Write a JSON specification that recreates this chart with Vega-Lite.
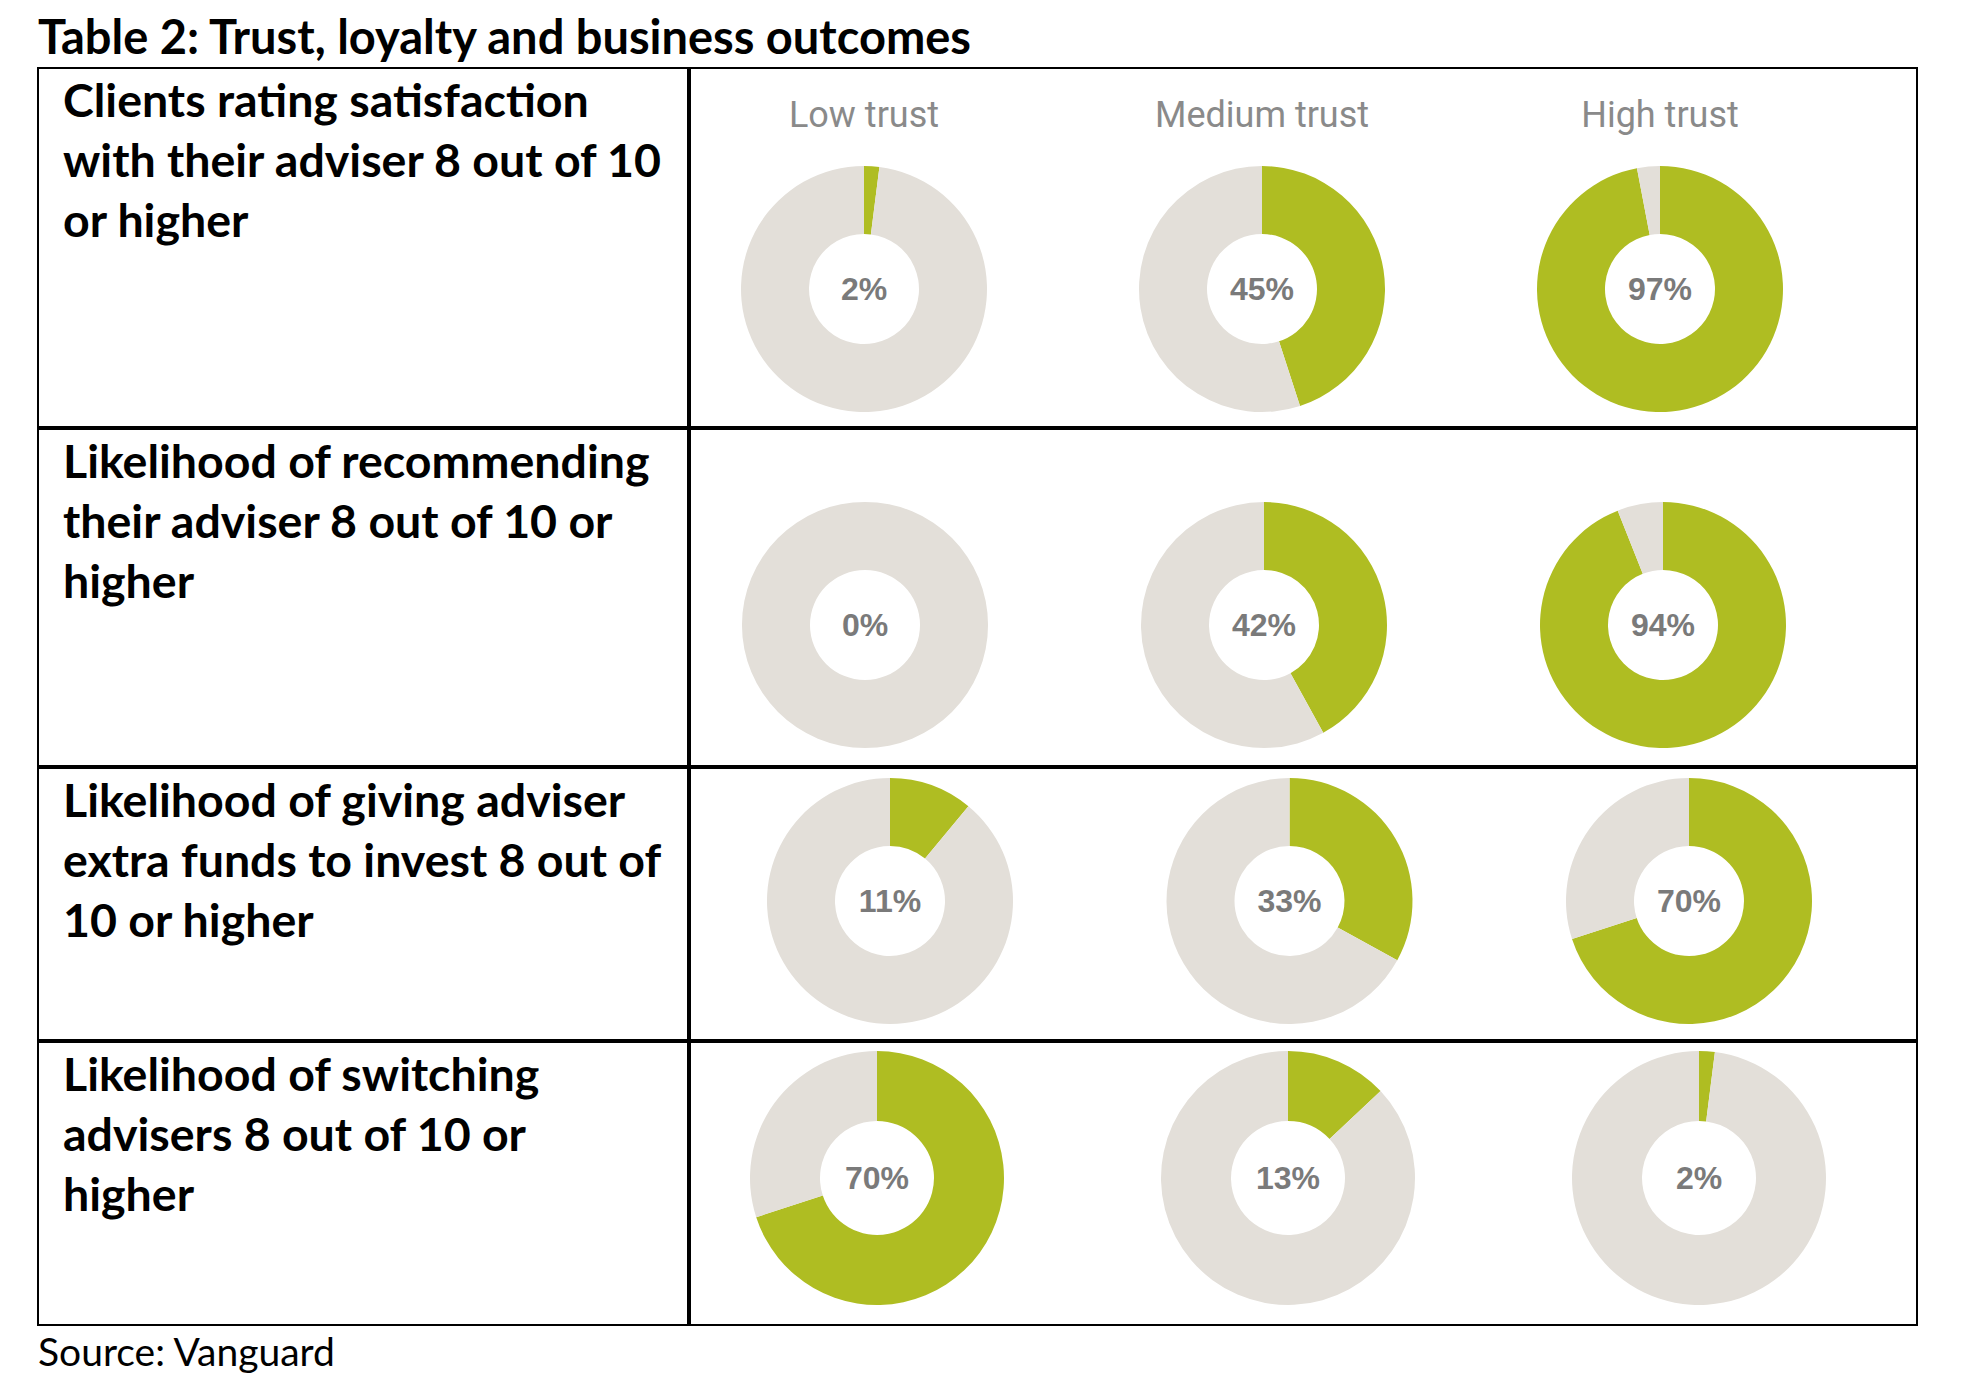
{
  "$schema": "https://vega.github.io/schema/vega-lite/v6.json",
  "padding": {"left": 37, "top": 0, "right": 10, "bottom": 5},
  "background": "white",
  "config": {
    "view": {"stroke": "black", "strokeWidth": 2},
    "concat": {"spacing": 0}
  },
  "datasets": {
    "labels": [
      {"metric": "satisfaction", "label": ["Clients rating satisfaction", "with their adviser 8 out of 10", "or higher"]},
      {"metric": "recommend", "label": ["Likelihood of recommending", "their adviser 8 out of 10 or", "higher"]},
      {"metric": "funds", "label": ["Likelihood of giving adviser", "extra funds to invest 8 out of", "10 or higher"]},
      {"metric": "switching", "label": ["Likelihood of switching", "advisers 8 out of 10 or", "higher"]}
    ],
    "donuts": [
      {"metric": "satisfaction", "trust": "Low trust", "part": "yes", "share": 0.02},
      {"metric": "satisfaction", "trust": "Low trust", "part": "no", "share": 0.98},
      {"metric": "satisfaction", "trust": "Medium trust", "part": "yes", "share": 0.45},
      {"metric": "satisfaction", "trust": "Medium trust", "part": "no", "share": 0.55},
      {"metric": "satisfaction", "trust": "High trust", "part": "yes", "share": 0.97},
      {"metric": "satisfaction", "trust": "High trust", "part": "no", "share": 0.03},
      {"metric": "recommend", "trust": "Low trust", "part": "yes", "share": 0.0},
      {"metric": "recommend", "trust": "Low trust", "part": "no", "share": 1.0},
      {"metric": "recommend", "trust": "Medium trust", "part": "yes", "share": 0.42},
      {"metric": "recommend", "trust": "Medium trust", "part": "no", "share": 0.58},
      {"metric": "recommend", "trust": "High trust", "part": "yes", "share": 0.94},
      {"metric": "recommend", "trust": "High trust", "part": "no", "share": 0.06},
      {"metric": "funds", "trust": "Low trust", "part": "yes", "share": 0.11},
      {"metric": "funds", "trust": "Low trust", "part": "no", "share": 0.89},
      {"metric": "funds", "trust": "Medium trust", "part": "yes", "share": 0.33},
      {"metric": "funds", "trust": "Medium trust", "part": "no", "share": 0.67},
      {"metric": "funds", "trust": "High trust", "part": "yes", "share": 0.70},
      {"metric": "funds", "trust": "High trust", "part": "no", "share": 0.30},
      {"metric": "switching", "trust": "Low trust", "part": "yes", "share": 0.70},
      {"metric": "switching", "trust": "Low trust", "part": "no", "share": 0.30},
      {"metric": "switching", "trust": "Medium trust", "part": "yes", "share": 0.13},
      {"metric": "switching", "trust": "Medium trust", "part": "no", "share": 0.87},
      {"metric": "switching", "trust": "High trust", "part": "yes", "share": 0.02},
      {"metric": "switching", "trust": "High trust", "part": "no", "share": 0.98}
    ]
  },
  "vconcat": [
    {"width": 1877, "height": 67, "view": {"stroke": null, "fill": "white"},
     "data": {"values": [{"title": "Table 2: Trust, loyalty and business outcomes"}]},
     "mark": {"type": "text", "align": "left", "baseline": "alphabetic", "y": 54, "font": "Lato", "fontSize": 47, "fontWeight": "bold", "color": "black"},
     "encoding": {"x": {"field": "title", "type": "nominal", "scale": {"type": "point", "range": [0, 0], "padding": 0}, "axis": null}, "text": {"field": "title"}}},
    {
      "hconcat": [
        {"width": 650, "height": 359, "data": {"name": "labels"}, "transform": [{"filter": "datum.metric === 'satisfaction'"}],
         "mark": {"type": "text", "align": "left", "baseline": "alphabetic", "y": 49, "font": "Lato", "fontWeight": "bold", "fontSize": 46.5, "lineHeight": 60, "color": "black"},
         "encoding": {"x": {"field": "metric", "type": "nominal", "scale": {"type": "point", "range": [25, 25], "padding": 0}, "axis": null}, "text": {"field": "label"}}},
        {"width": 1227, "height": 359, "data": {"name": "donuts"},
         "transform": [{"filter": "datum.metric === 'satisfaction'"}, {"stack": "share", "groupby": ["trust"], "sort": [{"field": "part", "order": "descending"}], "as": ["s0", "s1"]}],
         "layer": [
          {"mark": {"type": "arc", "outerRadius": 123, "innerRadius": 55, "y": 221},
           "encoding": {
             "x": {"field": "trust", "type": "nominal", "sort": ["Low trust", "Medium trust", "High trust"], "scale": {"type": "point", "range": [174, 970], "padding": 0}, "axis": null},
             "theta": {"field": "s0", "type": "quantitative", "stack": null, "scale": {"domain": [0, 1]}},
             "theta2": {"field": "s1"},
             "color": {"field": "part", "type": "nominal", "scale": {"domain": ["yes", "no"], "range": ["#afbd22", "#e3dfd9"]}, "legend": null}}},
          {"transform": [{"filter": "datum.part === 'yes'"}],
           "mark": {"type": "text", "y": 222, "baseline": "middle", "align": "center", "font": "Liberation Sans", "fontWeight": "bold", "fontSize": 32, "color": "#7a7a7a"},
           "encoding": {"x": {"field": "trust", "type": "nominal", "sort": ["Low trust", "Medium trust", "High trust"], "scale": {"type": "point", "range": [185, 978], "padding": 0}, "axis": null},
             "text": {"field": "share", "type": "quantitative", "format": ".0%"}}},
          {"transform": [{"filter": "datum.part === 'yes'"}],
           "mark": {"type": "text", "y": 59, "baseline": "alphabetic", "align": "center", "font": "Roboto", "fontSize": 36, "color": "#8a8a8a"},
           "encoding": {"x": {"field": "trust", "type": "nominal", "sort": ["Low trust", "Medium trust", "High trust"], "scale": {"type": "point", "range": [173, 975], "padding": 0}, "axis": null},
             "text": {"field": "trust", "type": "nominal"}}}
         ]}
      ]
    },
    {
      "hconcat": [
        {"width": 650, "height": 337, "data": {"name": "labels"}, "transform": [{"filter": "datum.metric === 'recommend'"}],
         "mark": {"type": "text", "align": "left", "baseline": "alphabetic", "y": 49, "font": "Lato", "fontWeight": "bold", "fontSize": 46.5, "lineHeight": 60, "color": "black"},
         "encoding": {"x": {"field": "metric", "type": "nominal", "scale": {"type": "point", "range": [25, 25], "padding": 0}, "axis": null}, "text": {"field": "label"}}},
        {"width": 1227, "height": 337, "data": {"name": "donuts"},
         "transform": [{"filter": "datum.metric === 'recommend'"}, {"stack": "share", "groupby": ["trust"], "sort": [{"field": "part", "order": "descending"}], "as": ["s0", "s1"]}],
         "layer": [
          {"mark": {"type": "arc", "outerRadius": 123, "innerRadius": 55, "y": 196},
           "encoding": {
             "x": {"field": "trust", "type": "nominal", "sort": ["Low trust", "Medium trust", "High trust"], "scale": {"type": "point", "range": [175, 973], "padding": 0}, "axis": null},
             "theta": {"field": "s0", "type": "quantitative", "stack": null, "scale": {"domain": [0, 1]}},
             "theta2": {"field": "s1"},
             "color": {"field": "part", "type": "nominal", "scale": {"domain": ["yes", "no"], "range": ["#afbd22", "#e3dfd9"]}, "legend": null}}},
          {"transform": [{"filter": "datum.part === 'yes'"}],
           "mark": {"type": "text", "y": 197, "baseline": "middle", "align": "center", "font": "Liberation Sans", "fontWeight": "bold", "fontSize": 32, "color": "#7a7a7a"},
           "encoding": {"x": {"field": "trust", "type": "nominal", "sort": ["Low trust", "Medium trust", "High trust"], "scale": {"type": "point", "range": [180, 981], "padding": 0}, "axis": null},
             "text": {"field": "share", "type": "quantitative", "format": ".0%"}}}
         ]}
      ]
    },
    {
      "hconcat": [
        {"width": 650, "height": 272, "data": {"name": "labels"}, "transform": [{"filter": "datum.metric === 'funds'"}],
         "mark": {"type": "text", "align": "left", "baseline": "alphabetic", "y": 49, "font": "Lato", "fontWeight": "bold", "fontSize": 46.5, "lineHeight": 60, "color": "black"},
         "encoding": {"x": {"field": "metric", "type": "nominal", "scale": {"type": "point", "range": [25, 25], "padding": 0}, "axis": null}, "text": {"field": "label"}}},
        {"width": 1227, "height": 272, "data": {"name": "donuts"},
         "transform": [{"filter": "datum.metric === 'funds'"}, {"stack": "share", "groupby": ["trust"], "sort": [{"field": "part", "order": "descending"}], "as": ["s0", "s1"]}],
         "layer": [
          {"mark": {"type": "arc", "outerRadius": 123, "innerRadius": 55, "y": 133},
           "encoding": {
             "x": {"field": "trust", "type": "nominal", "sort": ["Low trust", "Medium trust", "High trust"], "scale": {"type": "point", "range": [200, 999], "padding": 0}, "axis": null},
             "theta": {"field": "s0", "type": "quantitative", "stack": null, "scale": {"domain": [0, 1]}},
             "theta2": {"field": "s1"},
             "color": {"field": "part", "type": "nominal", "scale": {"domain": ["yes", "no"], "range": ["#afbd22", "#e3dfd9"]}, "legend": null}}},
          {"transform": [{"filter": "datum.part === 'yes'"}],
           "mark": {"type": "text", "y": 134, "baseline": "middle", "align": "center", "font": "Liberation Sans", "fontWeight": "bold", "fontSize": 32, "color": "#7a7a7a"},
           "encoding": {"x": {"field": "trust", "type": "nominal", "sort": ["Low trust", "Medium trust", "High trust"], "scale": {"type": "point", "range": [211, 1007], "padding": 0}, "axis": null},
             "text": {"field": "share", "type": "quantitative", "format": ".0%"}}}
         ]}
      ]
    },
    {
      "hconcat": [
        {"width": 650, "height": 283, "data": {"name": "labels"}, "transform": [{"filter": "datum.metric === 'switching'"}],
         "mark": {"type": "text", "align": "left", "baseline": "alphabetic", "y": 49, "font": "Lato", "fontWeight": "bold", "fontSize": 46.5, "lineHeight": 60, "color": "black"},
         "encoding": {"x": {"field": "metric", "type": "nominal", "scale": {"type": "point", "range": [25, 25], "padding": 0}, "axis": null}, "text": {"field": "label"}}},
        {"width": 1227, "height": 283, "data": {"name": "donuts"},
         "transform": [{"filter": "datum.metric === 'switching'"}, {"stack": "share", "groupby": ["trust"], "sort": [{"field": "part", "order": "descending"}], "as": ["s0", "s1"]}],
         "layer": [
          {"mark": {"type": "arc", "outerRadius": 127, "innerRadius": 57, "y": 136},
           "encoding": {
             "x": {"field": "trust", "type": "nominal", "sort": ["Low trust", "Medium trust", "High trust"], "scale": {"type": "point", "range": [187, 1009], "padding": 0}, "axis": null},
             "theta": {"field": "s0", "type": "quantitative", "stack": null, "scale": {"domain": [0, 1]}},
             "theta2": {"field": "s1"},
             "color": {"field": "part", "type": "nominal", "scale": {"domain": ["yes", "no"], "range": ["#afbd22", "#e3dfd9"]}, "legend": null}}},
          {"transform": [{"filter": "datum.part === 'yes'"}],
           "mark": {"type": "text", "y": 137, "baseline": "middle", "align": "center", "font": "Liberation Sans", "fontWeight": "bold", "fontSize": 32, "color": "#7a7a7a"},
           "encoding": {"x": {"field": "trust", "type": "nominal", "sort": ["Low trust", "Medium trust", "High trust"], "scale": {"type": "point", "range": [198, 1018], "padding": 0}, "axis": null},
             "text": {"field": "share", "type": "quantitative", "format": ".0%"}}}
         ]}
      ]
    },
    {"width": 1877, "height": 55, "view": {"stroke": null, "fill": "white"}, "data": {"values": [{"note": "Source: Vanguard"}]},
     "mark": {"type": "text", "align": "left", "baseline": "alphabetic", "y": 40, "font": "Lato", "fontSize": 39, "color": "black"},
     "encoding": {"x": {"field": "note", "type": "nominal", "scale": {"type": "point", "range": [0, 0], "padding": 0}, "axis": null}, "text": {"field": "note"}}}
  ]
}
